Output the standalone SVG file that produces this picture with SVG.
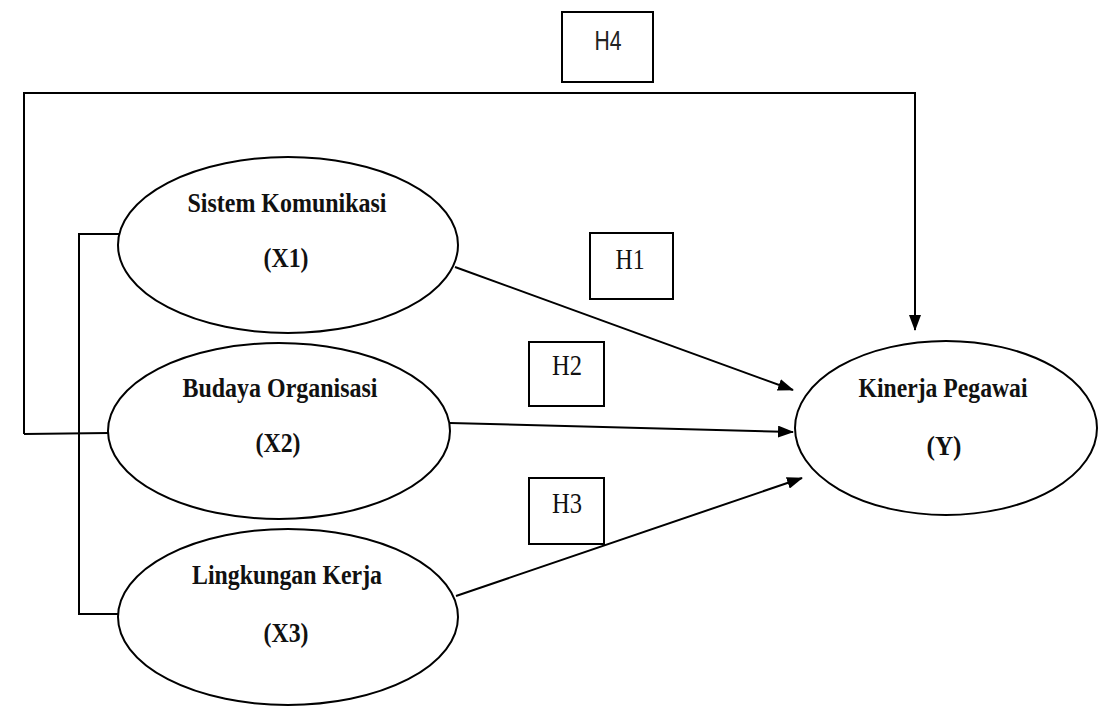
<svg xmlns="http://www.w3.org/2000/svg" width="1107" height="706" viewBox="0 0 1107 706">
<defs>
<style>
.node ellipse{fill:#fff;stroke:#000;stroke-width:2}
.box{fill:#fff;stroke:#000;stroke-width:2}
.lbl{font-family:"Liberation Serif","Times New Roman",serif;font-weight:bold;font-size:27px;fill:#111;text-anchor:middle}
.h{font-family:"Liberation Serif","Times New Roman",serif;font-size:30px;fill:#111;text-anchor:middle}
.hs{font-family:"Liberation Sans",Arial,sans-serif;font-size:28px;fill:#222;text-anchor:middle}
.conn{fill:none;stroke:#000;stroke-width:2}
</style>
<marker id="arr" markerWidth="16" markerHeight="12" refX="15" refY="6" orient="auto" markerUnits="userSpaceOnUse">
<path d="M0,0 L16,6 L0,12 Z" fill="#000"/>
</marker>
</defs>
<rect width="1107" height="706" fill="#fff"/>
<g id="connectors">
<polyline class="conn" points="24,434 24,93 915,93 915,330" marker-end="url(#arr)"/>
<polyline class="conn" points="119,234 79,234 79,614 119,614"/>
<line class="conn" x1="24" y1="434" x2="109" y2="433"/>
<line class="conn" x1="455" y1="267" x2="793" y2="390" marker-end="url(#arr)"/>
<line class="conn" x1="450" y1="423" x2="793" y2="432" marker-end="url(#arr)"/>
<line class="conn" x1="456" y1="596" x2="802" y2="478" marker-end="url(#arr)"/>
</g>
<g id="H4"><rect class="box" x="562" y="12" width="91" height="70"/><text class="hs" x="608" y="50" textLength="27" lengthAdjust="spacingAndGlyphs">H4</text></g>
<g id="H1"><rect class="box" x="590" y="233" width="83" height="66"/><text class="h" x="630" y="269" textLength="29" lengthAdjust="spacingAndGlyphs">H1</text></g>
<g id="H2"><rect class="box" x="529" y="342" width="75" height="64"/><text class="h" x="567" y="375" textLength="30" lengthAdjust="spacingAndGlyphs">H2</text></g>
<g id="H3"><rect class="box" x="529" y="478" width="75" height="66"/><text class="h" x="567" y="513" textLength="30" lengthAdjust="spacingAndGlyphs">H3</text></g>
<g id="X1" class="node"><ellipse cx="288" cy="245" rx="170" ry="88"/><text class="lbl" x="287" y="212" textLength="199" lengthAdjust="spacingAndGlyphs">Sistem Komunikasi</text><text class="lbl" x="286" y="267" textLength="45" lengthAdjust="spacingAndGlyphs">(X1)</text></g>
<g id="X2" class="node"><ellipse cx="279" cy="431" rx="171" ry="88"/><text class="lbl" x="280" y="397" textLength="195" lengthAdjust="spacingAndGlyphs">Budaya Organisasi</text><text class="lbl" x="278" y="452" textLength="45" lengthAdjust="spacingAndGlyphs">(X2)</text></g>
<g id="X3" class="node"><ellipse cx="288" cy="617" rx="170" ry="88"/><text class="lbl" x="287" y="584" textLength="190" lengthAdjust="spacingAndGlyphs">Lingkungan Kerja</text><text class="lbl" x="286" y="642" textLength="45" lengthAdjust="spacingAndGlyphs">(X3)</text></g>
<g id="Y" class="node"><ellipse cx="946" cy="428" rx="151" ry="87"/><text class="lbl" x="943" y="397" textLength="169" lengthAdjust="spacingAndGlyphs">Kinerja Pegawai</text><text class="lbl" x="944" y="455" textLength="35" lengthAdjust="spacingAndGlyphs">(Y)</text></g>
</svg>
